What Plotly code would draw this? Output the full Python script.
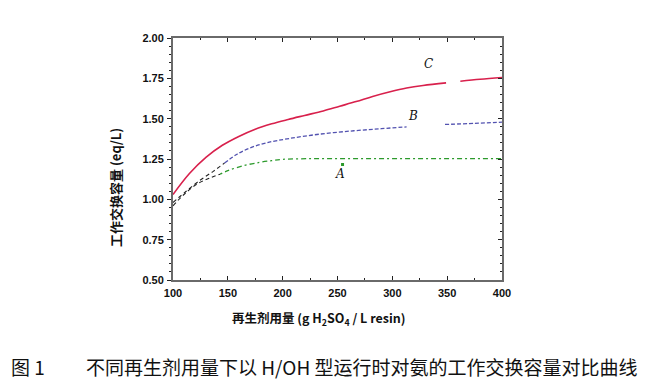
import plotly.graph_objects as go

# ---- data ----
dose_C = [100, 115, 130, 145, 160, 175, 190, 205, 220, 237, 252, 267, 282, 298, 313, 328, 349, None, 362, 380, 400]
cap_C = [1.03, 1.16, 1.26, 1.335, 1.39, 1.435, 1.468, 1.495, 1.52, 1.548, 1.577, 1.606, 1.638, 1.667, 1.69, 1.706, 1.722,
         None, 1.732, 1.744, 1.755]

dose_B_start = [100, 112, 125, 137, 147]
cap_B_start = [0.98, 1.05, 1.12, 1.175, 1.225]
dose_B = [147, 158, 170, 185, 206, 235, 265, 290, 313, None, 348, 375, 400]
cap_B = [1.225, 1.278, 1.318, 1.35, 1.377, 1.405, 1.425, 1.438, 1.449, None, 1.464, 1.471, 1.478]

dose_A_start = [100, 110, 122, 133, 143]
cap_A_start = [0.96, 1.03, 1.095, 1.13, 1.156]
dose_A = [143, 150, 165, 179, 190, 200, 225, 250, 275, 300, 325, 350, 375, 400]
cap_A = [1.156, 1.178, 1.21, 1.229, 1.24, 1.248, 1.252, 1.252, 1.252, 1.252, 1.252, 1.252, 1.252, 1.252]

point_A_x = [254.6]
point_A_y = [1.216]

labels = ["C", "B", "A"]
label_x = [333, 319, 252]
label_y = [1.836, 1.515, 1.16]

x_ticks = [100, 150, 200, 250, 300, 350, 400]
y_ticks = [0.50, 0.75, 1.00, 1.25, 1.50, 1.75, 2.00]

red = "#d8204c"
blue = "#5252b0"
green = "#2c9a2c"

fig = go.Figure()
fig.add_trace(go.Scatter(x=dose_C, y=cap_C, mode="lines", line=dict(color=red, width=1.6, shape="spline", smoothing=1.0),
                         connectgaps=False, showlegend=False))
fig.add_trace(go.Scatter(x=dose_B_start, y=cap_B_start, mode="lines",
                         line=dict(color="#222222", width=1.1, dash="4px,3px", shape="spline"), showlegend=False))
fig.add_trace(go.Scatter(x=dose_B, y=cap_B, mode="lines", line=dict(color=blue, width=1.3, dash="4px,2px", shape="spline"),
                         connectgaps=False, showlegend=False))
fig.add_trace(go.Scatter(x=dose_A_start, y=cap_A_start, mode="lines",
                         line=dict(color="#222222", width=1.1, dash="4px,3px", shape="spline"), showlegend=False))
fig.add_trace(go.Scatter(x=dose_A, y=cap_A, mode="lines", line=dict(color=green, width=1.3, dash="2px,3px,5px,3px", shape="spline"),
                         showlegend=False))
fig.add_trace(go.Scatter(x=point_A_x, y=point_A_y, mode="markers", marker=dict(color=green, size=3, symbol="square"),
                         showlegend=False))
# dummy trace for the mirrored top/right axes
fig.add_trace(go.Scatter(x=[], y=[], xaxis="x2", yaxis="y2", showlegend=False))

for t, lx, ly in zip(labels, label_x, label_y):
    fig.add_annotation(x=lx, y=ly, text=t, showarrow=False,
                       font=dict(family="DejaVu Serif", size=12, color="#111111", style="italic"))

tickfont = dict(family="Liberation Sans", size=11, color="#111111", weight="bold")
axis_line = "#6a6a6a"

# the page body adds an 8px margin, so the figure is 8px smaller than the window
W, H = 649, 374
L, R, T, B = 165, 155, 30, 102
pw, ph = W - L - R, H - T - B

fig.update_layout(
    width=W, height=H,
    margin=dict(l=L, r=R, t=T, b=B),
    paper_bgcolor="white", plot_bgcolor="white",
    xaxis=dict(range=[100, 400], tickvals=x_ticks, ticks="inside", ticklen=4, tickwidth=1, tickcolor="#222",
               showline=True, linecolor=axis_line, linewidth=2, showgrid=False, zeroline=False,
               tickfont=tickfont, ticklabelstandoff=2,
               minor=dict(dtick=25, ticks="inside", ticklen=2, tickcolor="#222")),
    yaxis=dict(range=[0.50, 2.00], tickvals=y_ticks, ticktext=[f"{v:.2f}" for v in y_ticks],
               ticks="outside", ticklen=4, tickwidth=1, tickcolor="#222",
               showline=True, linecolor=axis_line, linewidth=2, showgrid=False, zeroline=False,
               tickfont=tickfont, ticklabelstandoff=1,
               minor=dict(dtick=0.05, ticks="outside", ticklen=2, tickcolor="#222")),
    xaxis2=dict(range=[100, 400], overlaying="x", side="top", tickvals=x_ticks, ticks="inside", ticklen=4,
                tickcolor="#222", showticklabels=False, showline=True, linecolor=axis_line, linewidth=2,
                showgrid=False, zeroline=False, minor=dict(dtick=25, ticks="inside", ticklen=2, tickcolor="#222")),
    yaxis2=dict(range=[0.50, 2.00], overlaying="y", side="right", tickvals=y_ticks, ticks="inside", ticklen=4,
                tickcolor="#222", showticklabels=False, showline=True, linecolor=axis_line, linewidth=2,
                showgrid=False, zeroline=False, minor=dict(dtick=0.05, ticks="inside", ticklen=2, tickcolor="#222")),
)


def px_x(page_x):
    return (page_x - 8 - L) / pw


def px_y(page_y):
    return (H - B - (page_y - 8)) / ph


# axis titles
fig.add_annotation(xref="paper", yref="paper", x=px_x(116), y=px_y(188), xanchor="center", yanchor="middle",
                   text="<b>工作交换容量 (eq/L)</b>", textangle=-90, showarrow=False,
                   font=dict(family="Noto Sans CJK SC", size=13, color="#111111"))
fig.add_annotation(xref="paper", yref="paper", x=px_x(318), y=px_y(318), xanchor="center", yanchor="middle",
                   text="<b>再生剂用量 (g H<sub>2</sub>SO<sub>4</sub> / L resin)</b>", showarrow=False,
                   font=dict(family="Noto Sans CJK SC", size=12.5, color="#111111"))

# caption
fig.add_annotation(xref="paper", yref="paper", x=px_x(9), y=px_y(366), xanchor="left", yanchor="middle",
                   text="图 1", showarrow=False, font=dict(family="Noto Sans CJK SC", size=19, color="#111111"))
fig.add_annotation(xref="paper", yref="paper", x=px_x(84), y=px_y(366), xanchor="left", yanchor="middle",
                   text="不同再生剂用量下以 H/OH 型运行时对氨的工作交换容量对比曲线", showarrow=False,
                   font=dict(family="Noto Sans CJK SC", size=19, color="#111111"))

fig.write_html("out.html")
